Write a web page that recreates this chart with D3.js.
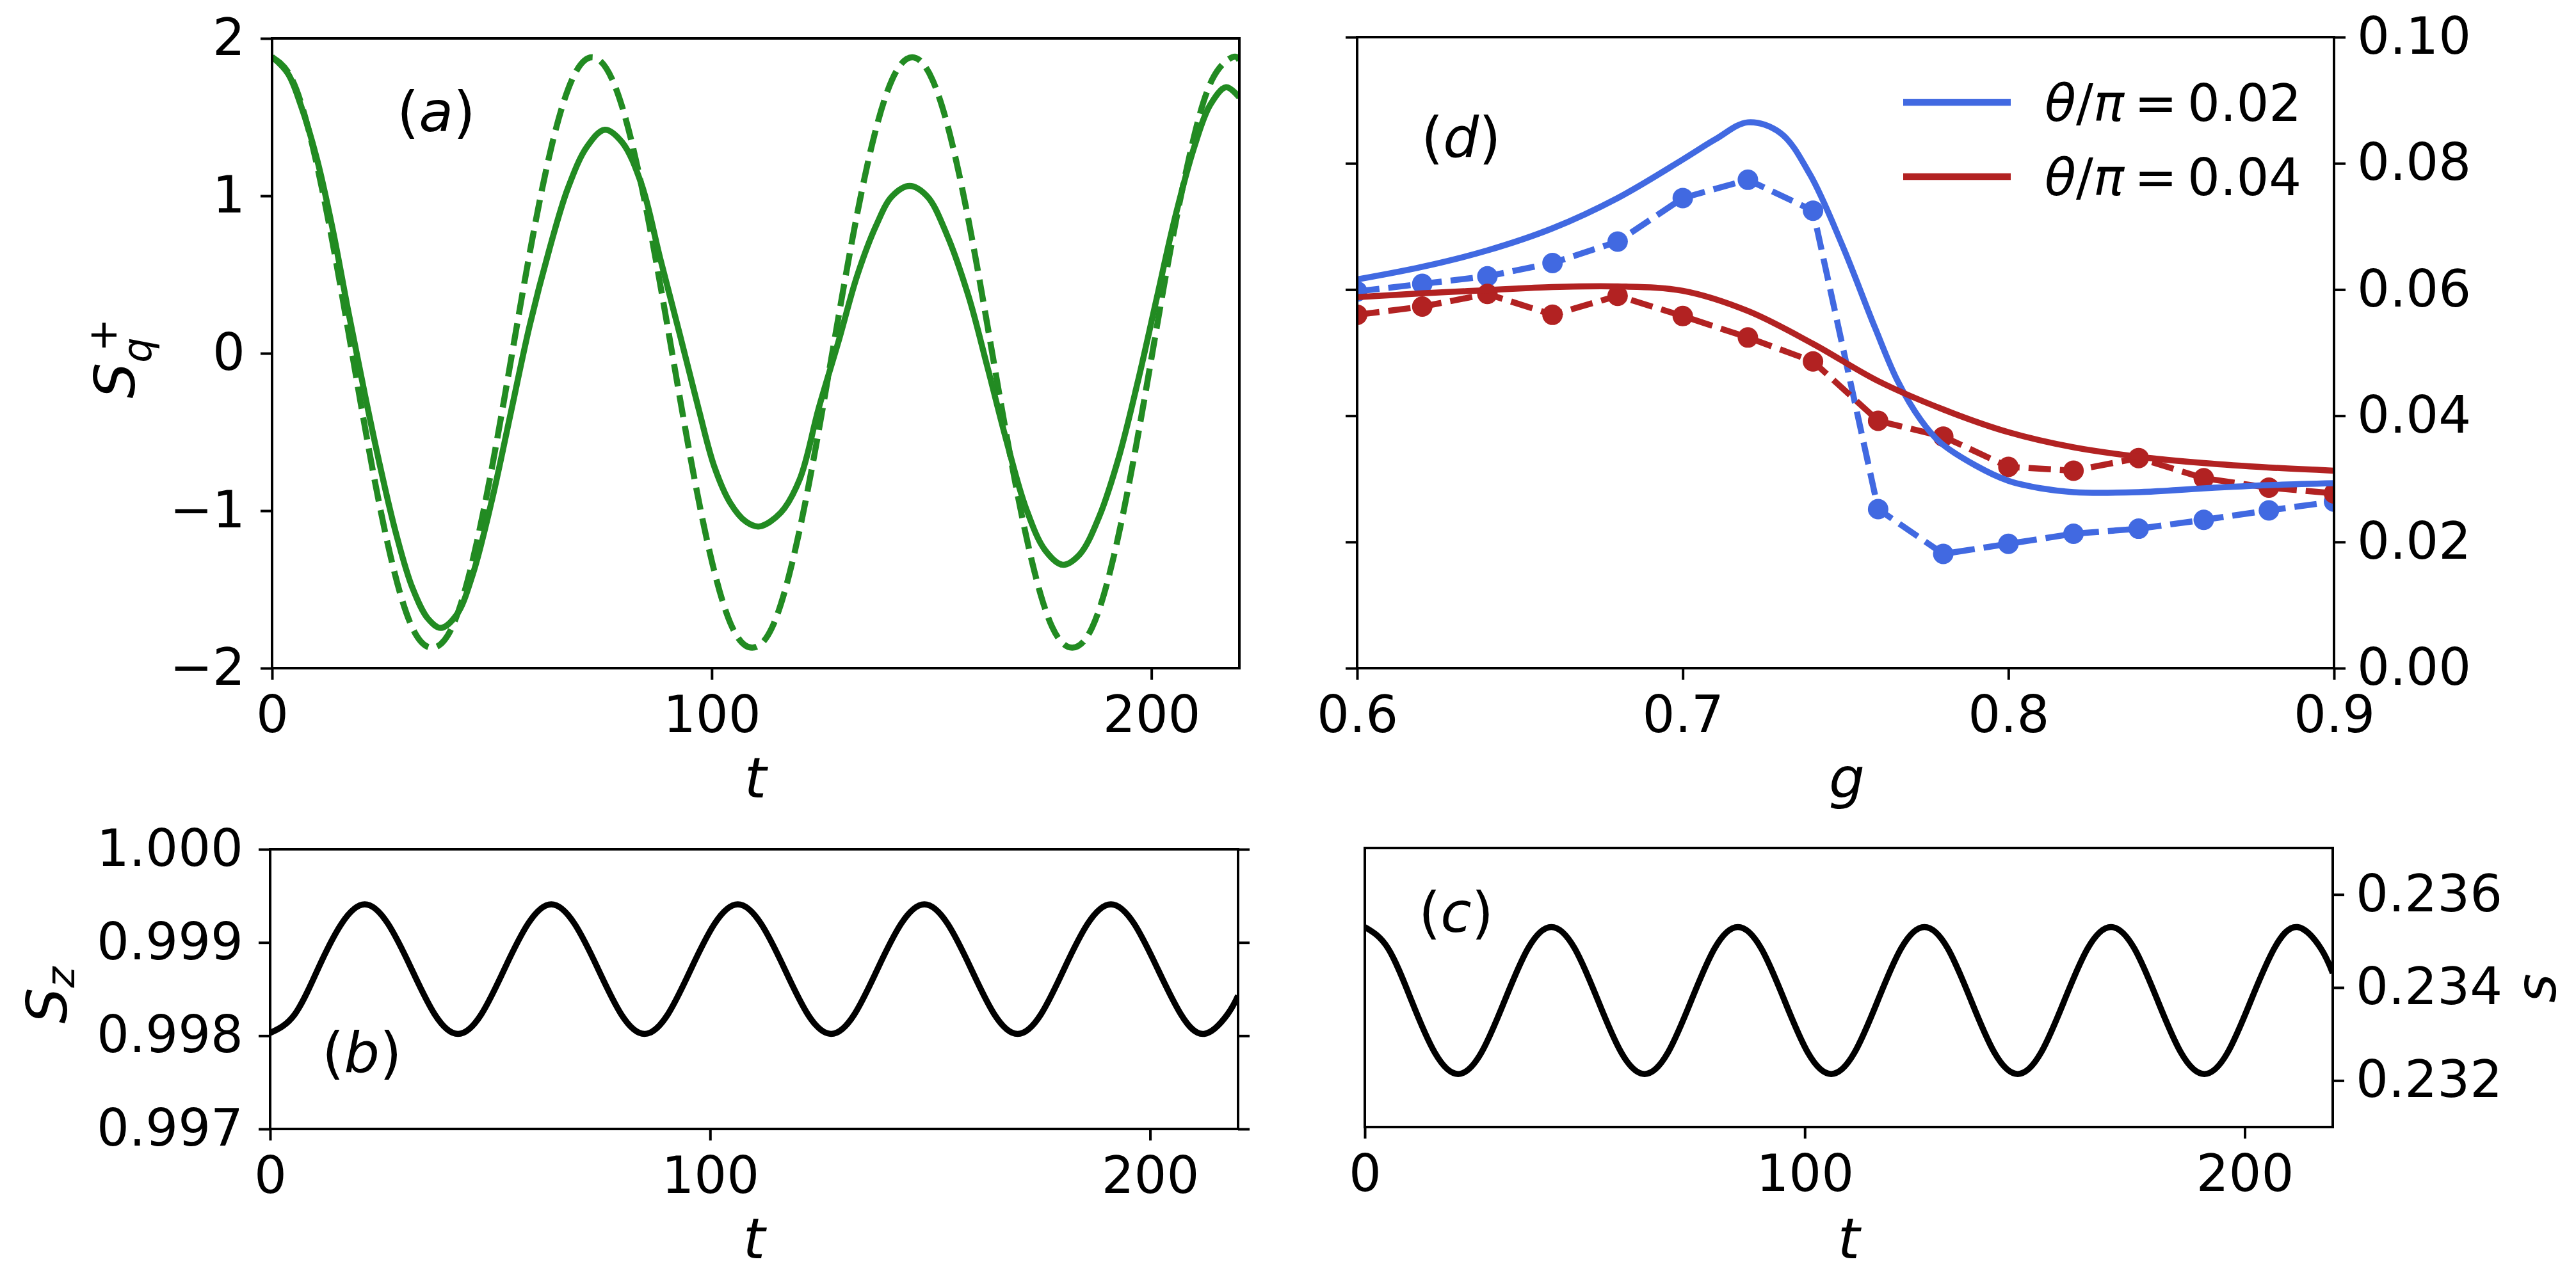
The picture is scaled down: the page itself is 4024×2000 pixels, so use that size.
<!DOCTYPE html>
<html lang="en">
<head>
<meta charset="utf-8">
<title>Spin panels</title>
<script src="https://d3js.org/d3.v7.min.js"></script>
<style>
  body { margin: 0; background: #fff; }
  svg text { font-family: "DejaVu Sans", sans-serif; fill: #000; }
</style>
</head>
<body>
<div id="chart"></div>
<script>
// ---- panel (a): S_q^+ vs t ----
var tSolidA = [0, 3.6, 6.5, 10.2, 13.8, 17.4, 21.0, 24.6, 28.2, 31.9, 35.5, 38.4, 42.0, 45.6, 50.0,
  54.3, 58.6, 63.0, 67.3, 71.7, 75.7, 79.6, 84.0, 88.3, 92.7, 97.0, 100.6, 104.2, 107.8, 110.8,
  115.7, 120.0, 124.3, 128.8, 133.1, 137.4, 141.0, 145.0, 149.0, 153.4, 158.4, 162.7, 167.1, 171.5,
  175.8, 179.8, 183.7, 188.1, 192.5, 196.8, 201.1, 205.4, 209.8, 213.4, 217.0, 220];
var sqSolid = [1.883, 1.777, 1.579, 1.235, 0.786, 0.257, -0.246, -0.721, -1.145, -1.488, -1.687, -1.744,
  -1.660, -1.409, -0.933, -0.378, 0.177, 0.653, 1.050, 1.315, 1.420, 1.341, 1.076, 0.600, 0.124, -0.351,
  -0.721, -0.950, -1.070, -1.100, -1.012, -0.801, -0.352, 0.072, 0.495, 0.812, 0.997, 1.063, 0.997, 0.759,
  0.363, -0.087, -0.563, -0.986, -1.250, -1.343, -1.277, -1.039, -0.669, -0.193, 0.336, 0.865, 1.315,
  1.579, 1.690, 1.625];
var tDashA = [0, 4.55, 9.10, 13.65, 18.20, 22.75, 27.30, 31.85, 36.40, 40.95, 45.50, 50.05, 54.60, 59.15,
  63.70, 68.25, 72.80, 77.35, 81.90, 86.45, 91.00, 95.55, 100.10, 104.65, 109.20, 113.75, 118.30, 122.85,
  127.40, 131.95, 136.50, 141.05, 145.60, 150.15, 154.70, 159.25, 163.80, 168.35, 172.90, 177.45, 182.00,
  186.55, 191.10, 195.65, 200.20, 204.75, 209.30, 213.85, 218.40, 220];
var sqDash = [1.88, 1.74, 1.33, 0.72, 0.00, -0.72, -1.33, -1.74, -1.87, -1.74, -1.33, -0.72, 0.00, 0.72, 1.33, 1.74,
  1.88, 1.74, 1.33, 0.72, 0.00, -0.72, -1.33, -1.74, -1.87, -1.74, -1.33, -0.72, 0.00, 0.72, 1.33, 1.74,
  1.88, 1.74, 1.33, 0.72, 0.00, -0.72, -1.33, -1.74, -1.87, -1.74, -1.33, -0.72, 0.00, 0.72, 1.33, 1.74,
  1.88, 1.86];

// ---- panel (b): S_z vs t ----
var tB = [0, 5.6, 10.9, 16.2, 21.5, 26.8, 32.1, 37.4, 42.7, 48.0, 53.3, 58.6, 63.9, 69.2, 74.5, 79.8,
  85.1, 90.4, 95.7, 101.0, 106.3, 111.6, 116.9, 122.2, 127.5, 132.8, 138.1, 143.4, 148.7, 154.0, 159.3,
  164.6, 169.9, 175.2, 180.5, 185.8, 191.1, 196.4, 201.7, 207.0, 212.3, 217.6, 220];
var szVals = [0.99803,
  0.99823, 0.99872, 0.99920, 0.99941, 0.99920, 0.99872, 0.99823, 0.99802,
  0.99823, 0.99872, 0.99920, 0.99941, 0.99920, 0.99872, 0.99823, 0.99802,
  0.99823, 0.99872, 0.99920, 0.99941, 0.99920, 0.99872, 0.99823, 0.99802,
  0.99823, 0.99872, 0.99920, 0.99941, 0.99920, 0.99872, 0.99823, 0.99802,
  0.99823, 0.99872, 0.99920, 0.99941, 0.99920, 0.99872, 0.99823, 0.99802,
  0.99823, 0.99843];

// ---- panel (c): s vs t ----
var tC = [0, 5.3, 10.6, 15.9, 21.2, 26.5, 31.8, 37.1, 42.4, 47.7, 53.0, 58.3, 63.6, 68.9, 74.2, 79.5,
  84.8, 90.1, 95.4, 100.7, 106.0, 111.3, 116.6, 121.9, 127.2, 132.5, 137.8, 143.1, 148.4, 153.7, 159.0,
  164.3, 169.6, 174.9, 180.2, 185.5, 190.8, 196.1, 201.4, 206.7, 212.0, 217.3, 220];
var sVals = [0.23530,
  0.23484, 0.23372, 0.23260, 0.23214, 0.23260, 0.23372, 0.23484, 0.23530,
  0.23484, 0.23372, 0.23260, 0.23214, 0.23260, 0.23372, 0.23484, 0.23530,
  0.23484, 0.23372, 0.23260, 0.23214, 0.23260, 0.23372, 0.23484, 0.23530,
  0.23484, 0.23372, 0.23260, 0.23214, 0.23260, 0.23372, 0.23484, 0.23530,
  0.23484, 0.23372, 0.23260, 0.23214, 0.23260, 0.23372, 0.23484, 0.23530,
  0.23484, 0.23431];

// ---- panel (d): vs g ----
var gDots = [0.60, 0.62, 0.64, 0.66, 0.68, 0.70, 0.72, 0.74, 0.76, 0.78, 0.80, 0.82, 0.84, 0.86, 0.88, 0.90];
var blueDots = [0.0597, 0.0609, 0.0621, 0.0642, 0.0676, 0.0745, 0.0774, 0.0725, 0.0252, 0.0181, 0.0197,
  0.0213, 0.0221, 0.0235, 0.0250, 0.0264];
var redDots = [0.0560, 0.0573, 0.0593, 0.0560, 0.0590, 0.0558, 0.0524, 0.0486, 0.0392, 0.0367, 0.0319,
  0.0313, 0.0333, 0.0301, 0.0286, 0.0277];
var gBlue = [0.60, 0.62, 0.64, 0.66, 0.68, 0.70, 0.71, 0.72, 0.73, 0.739, 0.749, 0.759, 0.766, 0.773,
  0.779, 0.790, 0.800, 0.810, 0.820, 0.840, 0.860, 0.880, 0.900];
var blueSolid = [0.0616, 0.0636, 0.0662, 0.0697, 0.0745, 0.0806, 0.0838, 0.0865, 0.0848, 0.0783, 0.0670,
  0.0540, 0.0455, 0.0394, 0.0358, 0.0321, 0.0297, 0.0285, 0.0279, 0.0279, 0.0285, 0.0290, 0.0293];
var gRed = [0.60, 0.62, 0.64, 0.66, 0.68, 0.70, 0.72, 0.74, 0.76, 0.78, 0.80, 0.82, 0.84, 0.86, 0.88, 0.90];
var redSolid = [0.0588, 0.0594, 0.0599, 0.0604, 0.0605, 0.0598, 0.0566, 0.0514, 0.0455, 0.0410, 0.0374,
  0.0350, 0.0335, 0.0325, 0.0318, 0.0313];
var legendLabels = ["0.02", "0.04"];

// tick values
var tTicks = [0, 100, 200];
var sqTicks = [-2, -1, 0, 1, 2];
var gTicks = [0.6, 0.7, 0.8, 0.9];
var dTicks = [0, 0.02, 0.04, 0.06, 0.08, 0.10];
var szTicks = [0.997, 0.998, 0.999, 1.000];
var sTicks = [0.232, 0.234, 0.236];

var green = "#228b22", blue = "#4169e1", red = "#b22222";
var LW = 9.5;

var svg = d3.select("#chart").append("svg")
  .attr("width", 4024).attr("height", 2000);
svg.append("rect").attr("width", 4024).attr("height", 2000).attr("fill", "#fff");

function makePanel(id, box, xd, yd) {
  var x = d3.scaleLinear().domain(xd).range([box.left, box.right]);
  var y = d3.scaleLinear().domain(yd).range([box.bottom, box.top]);
  svg.append("clipPath").attr("id", "clip-" + id).append("rect")
    .attr("x", box.left).attr("y", box.top)
    .attr("width", box.right - box.left).attr("height", box.bottom - box.top);
  var plot = svg.append("g").attr("clip-path", "url(#clip-" + id + ")");
  return { x: x, y: y, box: box, plot: plot };
}

function axis(p, side, ticks, fmt) {
  var b = p.box, a, tr, pad;
  if (side === "bottom") { a = d3.axisBottom(p.x); tr = "translate(0," + b.bottom + ")"; pad = 25; }
  if (side === "left") { a = d3.axisLeft(p.y); tr = "translate(" + b.left + ",0)"; pad = 24; }
  if (side === "right") { a = d3.axisRight(p.y); tr = "translate(" + b.right + ",0)"; pad = 18; }
  a.tickValues(ticks).tickSizeInner(18).tickSizeOuter(0).tickPadding(pad)
    .tickFormat(fmt ? d3.format(fmt) : function() { return ""; });
  var g = svg.append("g").attr("transform", tr).call(a);
  g.select(".domain").remove();
  g.selectAll(".tick line").attr("stroke", "#000").attr("stroke-width", 4);
  g.selectAll(".tick text").attr("font-size", 80).attr("font-family", "DejaVu Sans").attr("fill", "#000");
}

function frame(p) {
  var b = p.box;
  svg.append("rect").attr("x", b.left).attr("y", b.top)
    .attr("width", b.right - b.left).attr("height", b.bottom - b.top)
    .attr("fill", "none").attr("stroke", "#000").attr("stroke-width", 4);
}

function curve(p, xs, ys, color, dashed, kind) {
  var pts = xs.map(function(d, i) { return [d, ys[i]]; });
  var interp = kind === "natural" ? d3.curveNatural
    : kind === "catmull" ? d3.curveCatmullRom.alpha(0.5) : d3.curveLinear;
  var line = d3.line()
    .x(function(d) { return p.x(d[0]); })
    .y(function(d) { return p.y(d[1]); })
    .curve(interp);
  p.plot.append("path").datum(pts)
    .attr("d", line).attr("fill", "none")
    .attr("stroke", color).attr("stroke-width", LW)
    .attr("stroke-dasharray", dashed ? "35,14" : null);
}

function dots(p, xs, ys, color) {
  p.plot.selectAll(null).data(xs).enter().append("circle")
    .attr("cx", function(d) { return p.x(d); })
    .attr("cy", function(d, i) { return p.y(ys[i]); })
    .attr("r", 16).attr("fill", color);
}

function mathLabel(x, y, parts, rotate, anchor) {
  var t = svg.append("text")
    .attr("transform", "translate(" + x + "," + y + ")" + (rotate ? " rotate(-90)" : ""))
    .attr("text-anchor", anchor || "middle").attr("font-size", 88);
  parts.forEach(function(s) {
    var sp = t.append("tspan").text(s.t);
    if (s.it) sp.attr("font-style", "italic");
    if (s.size) sp.attr("font-size", s.size);
    if (s.dx) sp.attr("dx", s.dx);
    if (s.dy) sp.attr("dy", s.dy);
  });
  return t;
}

// ---- panel (a)
var pa = makePanel("a", { left: 425, right: 1936, top: 60, bottom: 1044 }, [0, 220], [-2, 2]);
curve(pa, tDashA, sqDash, green, true, "natural");
curve(pa, tSolidA, sqSolid, green, false, "catmull");
frame(pa);
axis(pa, "bottom", tTicks, "d");
axis(pa, "left", sqTicks, "d");
mathLabel(210, 560, [{ t: "S", it: true }, { t: "q", it: true, size: 62, dy: 26 },
  { t: "+", size: 62, dx: -22, dy: -54 }], true);
mathLabel(1180, 1246, [{ t: "t", it: true }]);
mathLabel(620, 205, [{ t: "(" }, { t: "a", it: true }, { t: ")" }], false, "start");

// ---- panel (d)
var pd = makePanel("d", { left: 2120, right: 3646, top: 58, bottom: 1044 }, [0.6, 0.9], [0, 0.1]);
curve(pd, gDots, blueDots, blue, true, "linear");
dots(pd, gDots, blueDots, blue);
curve(pd, gDots, redDots, red, true, "linear");
dots(pd, gDots, redDots, red);
curve(pd, gBlue, blueSolid, blue, false, "catmull");
curve(pd, gRed, redSolid, red, false, "catmull");
frame(pd);
axis(pd, "bottom", gTicks, ".1f");
axis(pd, "left", dTicks, null);
axis(pd, "right", dTicks, ".2f");
mathLabel(2885, 1246, [{ t: "g", it: true }]);
mathLabel(2220, 245, [{ t: "(" }, { t: "d", it: true }, { t: ")" }], false, "start");

// legend
[blue, red].forEach(function(c, i) {
  var ly = 160 + i * 116;
  svg.append("line").attr("x1", 2973).attr("x2", 3141).attr("y1", ly).attr("y2", ly)
    .attr("stroke", c).attr("stroke-width", LW + 1);
  var t = svg.append("text").attr("x", 3194).attr("y", ly + 29).attr("font-size", 80);
  t.append("tspan").attr("font-style", "italic").text("θ");
  t.append("tspan").text("/");
  t.append("tspan").attr("font-style", "italic").text("π");
  t.append("tspan").text("\u2009=\u2009" + legendLabels[i]);
});

// ---- panel (b)
var pb = makePanel("b", { left: 422, right: 1934, top: 1327, bottom: 1764 }, [0, 220], [0.997, 1.000]);
curve(pb, tB, szVals, "#000", false, "natural");
frame(pb);
axis(pb, "bottom", tTicks, "d");
axis(pb, "left", szTicks, ".3f");
axis(pb, "right", szTicks, null);
mathLabel(104, 1555, [{ t: "S", it: true }, { t: "z", it: true, size: 62, dy: 12 }], true);
mathLabel(1178, 1966, [{ t: "t", it: true }]);
mathLabel(503, 1675, [{ t: "(" }, { t: "b", it: true }, { t: ")" }], false, "start");

// ---- panel (c)
var pc = makePanel("c", { left: 2132, right: 3644, top: 1325, bottom: 1761 }, [0, 220], [0.231, 0.237]);
curve(pc, tC, sVals, "#000", false, "natural");
frame(pc);
axis(pc, "bottom", tTicks, "d");
axis(pc, "right", sTicks, ".3f");
mathLabel(3992, 1544, [{ t: "s", it: true }], true);
mathLabel(2888, 1966, [{ t: "t", it: true }]);
mathLabel(2216, 1456, [{ t: "(" }, { t: "c", it: true }, { t: ")" }], false, "start");
</script>
</body>
</html>
